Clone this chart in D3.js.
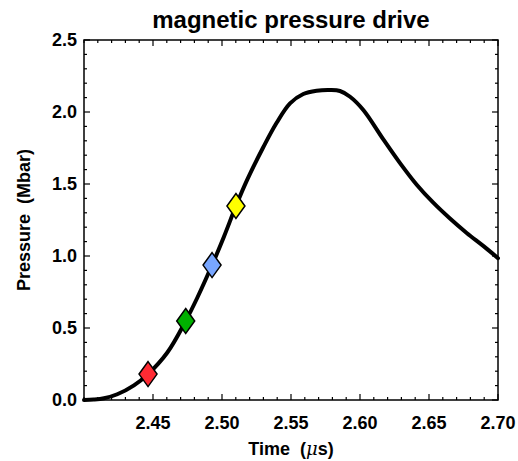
<!DOCTYPE html>
<html>
<head>
<meta charset="utf-8">
<script src="https://cdn.jsdelivr.net/npm/d3@7"></script>
<style>
  body { margin: 0; background: #fff; }
  text { font-family: "Liberation Sans", Arial, sans-serif; font-weight: bold; fill: #000; }
</style>
</head>
<body>
<div id="chart"></div>
<script>
const W = 518, H = 461;
const M = { left: 84, right: 20, top: 40, bottom: 61 };

// curve: time (µs) and pressure (Mbar)
const time = [2.400, 2.407, 2.4145, 2.4241, 2.4362, 2.4464, 2.4604, 2.4737, 2.4821, 2.4928, 2.5014,
  2.5101, 2.5183, 2.5299, 2.5396, 2.5493, 2.5589, 2.5686, 2.5783, 2.5855, 2.5928,
  2.6024, 2.6169, 2.629, 2.6411, 2.6531, 2.6652, 2.6773, 2.6893, 2.700];
const pressure = [0.0, 0.003, 0.012, 0.04, 0.102, 0.18, 0.33, 0.549, 0.71, 0.937, 1.134,
  1.347, 1.53, 1.755, 1.925, 2.06, 2.125, 2.148, 2.153, 2.146, 2.106,
  2.014, 1.81, 1.645, 1.495, 1.37, 1.26, 1.16, 1.07, 0.985];

const markerTime = [2.4464, 2.4737, 2.4928, 2.5101];
const markerPressure = [0.18, 0.549, 0.937, 1.347];
const markerColor = ["#ff2a33", "#00b000", "#78a6ff", "#ffff00"];

const xTicks = [2.45, 2.50, 2.55, 2.60, 2.65, 2.70];
const yTicks = [0.0, 0.5, 1.0, 1.5, 2.0, 2.5];
const xMinor = d3.range(2.40, 2.7001, 0.01);
const yMinor = d3.range(0, 2.5001, 0.1);

const svg = d3.select("#chart").append("svg").attr("width", W).attr("height", H);

const x = d3.scaleLinear().domain([2.40, 2.70]).range([M.left, W - M.right]);
const y = d3.scaleLinear().domain([0, 2.5]).range([H - M.bottom, M.top]);
const x0 = M.left, x1 = W - M.right, y0 = H - M.bottom, y1 = M.top;

// ticks pointing inwards on all four sides
const ticks = svg.append("g").attr("stroke", "#000").attr("stroke-width", 1.2);
xMinor.forEach((t) => {
  const major = xTicks.some((v) => Math.abs(v - t) < 1e-6);
  const len = major ? 6 : 3;
  ticks.append("line").attr("x1", x(t)).attr("x2", x(t)).attr("y1", y0).attr("y2", y0 - len);
  ticks.append("line").attr("x1", x(t)).attr("x2", x(t)).attr("y1", y1).attr("y2", y1 + len);
});
yMinor.forEach((t) => {
  const major = yTicks.some((v) => Math.abs(v - t) < 1e-6);
  const len = major ? 6 : 3;
  ticks.append("line").attr("y1", y(t)).attr("y2", y(t)).attr("x1", x0).attr("x2", x0 + len);
  ticks.append("line").attr("y1", y(t)).attr("y2", y(t)).attr("x1", x1).attr("x2", x1 - len);
});

svg.append("rect")
  .attr("x", x0).attr("y", y1)
  .attr("width", x1 - x0).attr("height", y0 - y1)
  .attr("fill", "none").attr("stroke", "#000").attr("stroke-width", 1.5);

// tick labels
svg.append("g").selectAll("text").data(xTicks).join("text")
  .attr("x", (d) => x(d)).attr("y", y0 + 29)
  .attr("text-anchor", "middle").style("font-size", "18px")
  .text((d) => d.toFixed(2));

svg.append("g").selectAll("text").data(yTicks).join("text")
  .attr("x", x0 - 7).attr("y", (d) => y(d) + 6)
  .attr("text-anchor", "end").style("font-size", "18px")
  .text((d) => d.toFixed(1));

// curve
const pts = time.map((t, i) => [t, pressure[i]]);
svg.append("path")
  .datum(pts)
  .attr("fill", "none").attr("stroke", "#000").attr("stroke-width", 4)
  .attr("stroke-linejoin", "round").attr("stroke-linecap", "round")
  .attr("d", d3.line().x((d) => x(d[0])).y((d) => y(d[1])).curve(d3.curveCatmullRom.alpha(0.5)));

// diamonds
svg.append("g").selectAll("path").data(markerTime).join("path")
  .attr("transform", (d, i) => `translate(${x(d)},${y(markerPressure[i])})`)
  .attr("d", "M0,-12.5L9,0L0,12.5L-9,0Z")
  .attr("fill", (d, i) => markerColor[i])
  .attr("stroke", "#000").attr("stroke-width", 1.5).attr("stroke-linejoin", "miter");

// titles
svg.append("text")
  .attr("x", (x0 + x1) / 2).attr("y", 28)
  .attr("text-anchor", "middle").style("font-size", "24px")
  .text("magnetic pressure drive");

const xl = svg.append("text")
  .attr("x", (x0 + x1) / 2).attr("y", 455)
  .attr("text-anchor", "middle").style("font-size", "18px")
  .attr("xml:space", "preserve");
xl.append("tspan").text("Time  (");
xl.append("tspan").style("font-style", "italic").style("font-weight", "normal")
  .style("font-family", "'DejaVu Serif', serif").text("\u03bc");
xl.append("tspan").text("s)");

svg.append("text")
  .attr("transform", `translate(30,${(y0 + y1) / 2}) rotate(-90)`)
  .attr("text-anchor", "middle").style("font-size", "18px")
  .attr("xml:space", "preserve")
  .text("Pressure  (Mbar)");
</script>
</body>
</html>
